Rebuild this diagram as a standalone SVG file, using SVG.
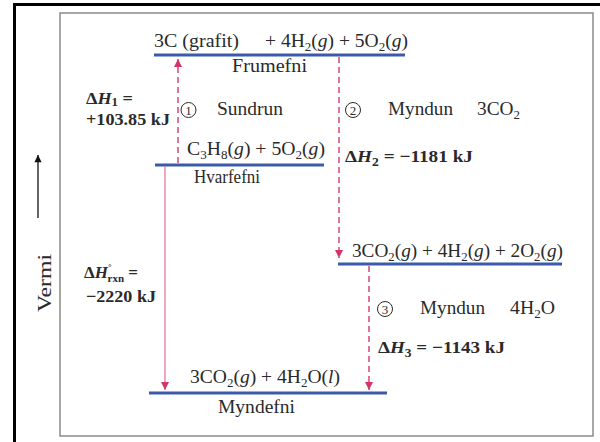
<svg xmlns="http://www.w3.org/2000/svg" width="600" height="442" viewBox="0 0 600 442">
<style>
.t{font-family:"Liberation Serif","Times New Roman",serif;font-size:18px;fill:#2a2a2a}
.b{font-weight:bold;font-size:17px}
.i{font-style:italic}
.s{font-size:12px}
.cc{fill:none;stroke:#2a2a2a;stroke-width:1}
.cd{font-family:"Liberation Serif","Times New Roman",serif;font-size:13px;fill:#2a2a2a;text-anchor:middle}
.lv{stroke:#3b5ba8;stroke-width:3}
.dash{stroke:#d6457a;stroke-width:1.5;stroke-dasharray:6 4;fill:none}
.solid{stroke:#e07098;stroke-width:1.2;fill:none}
</style>
<defs>
<marker id="ap" viewBox="0 0 8 10" refX="8" refY="5" markerWidth="8" markerHeight="10" markerUnits="userSpaceOnUse" orient="auto">
<path d="M0,1 L8,5 L0,9 Z" fill="#d6336c"/>
</marker>
<marker id="ak" viewBox="0 0 8 10" refX="8" refY="5" markerWidth="8" markerHeight="9" markerUnits="userSpaceOnUse" orient="auto">
<path d="M0,1 L8,5 L0,9 Z" fill="#111"/>
</marker>
</defs>
<rect x="14.5" y="4.5" width="600" height="450" fill="#fff" stroke="#000" stroke-width="3"/>
<rect x="60" y="13" width="533" height="423" fill="#fff" stroke="#8a8a8a" stroke-width="1.5"/>

<g id="axis">
<line x1="38" y1="218" x2="38" y2="155" stroke="#111" stroke-width="1.3" marker-end="url(#ak)"/>
<text class="t" transform="translate(51,283) rotate(-90)" text-anchor="middle" textLength="58" lengthAdjust="spacingAndGlyphs">Vermi</text>
</g>

<g id="frumefni">
<line class="lv" x1="154" y1="55" x2="405" y2="55"/>
<text class="t" x="154" y="47" textLength="85" lengthAdjust="spacingAndGlyphs">3C (grafit)</text>
<text class="t" x="265" y="47" textLength="143" lengthAdjust="spacingAndGlyphs">+ 4H<tspan class="s" dy="4">2</tspan><tspan dy="-4">(</tspan><tspan class="i">g</tspan>) + 5O<tspan class="s" dy="4">2</tspan><tspan dy="-4">(</tspan><tspan class="i">g</tspan>)</text>
<text class="t" x="232" y="72" textLength="75" lengthAdjust="spacingAndGlyphs">Frumefni</text>
</g>

<g id="hvarfefni">
<line class="lv" x1="155" y1="165" x2="324" y2="165"/>
<text class="t" x="187" y="155" textLength="138" lengthAdjust="spacingAndGlyphs">C<tspan class="s" dy="4">3</tspan><tspan dy="-4">H</tspan><tspan class="s" dy="4">8</tspan><tspan dy="-4">(</tspan><tspan class="i">g</tspan>) + 5O<tspan class="s" dy="4">2</tspan><tspan dy="-4">(</tspan><tspan class="i">g</tspan>)</text>
<text class="t" x="194" y="183" textLength="66" lengthAdjust="spacingAndGlyphs">Hvarfefni</text>
</g>

<g id="millistig">
<line class="lv" x1="338" y1="264" x2="562" y2="264"/>
<text class="t" x="352" y="257" textLength="211" lengthAdjust="spacingAndGlyphs">3CO<tspan class="s" dy="4">2</tspan><tspan dy="-4">(</tspan><tspan class="i">g</tspan>) + 4H<tspan class="s" dy="4">2</tspan><tspan dy="-4">(</tspan><tspan class="i">g</tspan>) + 2O<tspan class="s" dy="4">2</tspan><tspan dy="-4">(</tspan><tspan class="i">g</tspan>)</text>
</g>

<g id="myndefni">
<line class="lv" x1="149" y1="393" x2="387" y2="393"/>
<text class="t" x="190" y="383" textLength="150" lengthAdjust="spacingAndGlyphs">3CO<tspan class="s" dy="4">2</tspan><tspan dy="-4">(</tspan><tspan class="i">g</tspan>) + 4H<tspan class="s" dy="4">2</tspan><tspan dy="-4">O(</tspan><tspan class="i">l</tspan>)</text>
<text class="t" x="218" y="413" textLength="77" lengthAdjust="spacingAndGlyphs">Myndefni</text>
</g>

<g id="connectors">
<line class="dash" x1="178" y1="163" x2="178" y2="59" marker-end="url(#ap)"/>
<line class="dash" x1="339" y1="57" x2="339" y2="258" marker-end="url(#ap)"/>
<line class="dash" x1="369" y1="266" x2="369" y2="390" marker-end="url(#ap)"/>
<line class="solid" x1="165" y1="166" x2="165" y2="390" marker-end="url(#ap)"/>
</g>

<g id="skref1">
<text class="t b" x="86" y="104" textLength="47" lengthAdjust="spacingAndGlyphs">Δ<tspan class="i">H</tspan><tspan class="s" dy="2">1</tspan><tspan dy="-2"> =</tspan></text>
<text class="t b" x="86" y="125" textLength="84" lengthAdjust="spacingAndGlyphs">+103.85 kJ</text>
<circle class="cc" cx="188.5" cy="110" r="7.5"/>
<text class="cd" x="188.5" y="114.5">1</text>
<text class="t" x="217" y="115" textLength="66" lengthAdjust="spacingAndGlyphs">Sundrun</text>
</g>

<g id="skref2">
<circle class="cc" cx="353" cy="110" r="7.5"/>
<text class="cd" x="353" y="114.5">2</text>
<text class="t" x="388" y="115" textLength="65" lengthAdjust="spacingAndGlyphs">Myndun</text>
<text class="t" x="477" y="115" textLength="43" lengthAdjust="spacingAndGlyphs">3CO<tspan class="s" dy="4">2</tspan></text>
<text class="t b" x="345" y="162" textLength="128" lengthAdjust="spacingAndGlyphs">Δ<tspan class="i">H</tspan><tspan class="s" dy="4">2</tspan><tspan dy="-4"> = −1181 kJ</tspan></text>
</g>

<g id="skref3">
<circle class="cc" cx="385" cy="309" r="7.5"/>
<text class="cd" x="385" y="313.5">3</text>
<text class="t" x="420" y="314" textLength="65" lengthAdjust="spacingAndGlyphs">Myndun</text>
<text class="t" x="510" y="314" textLength="45" lengthAdjust="spacingAndGlyphs">4H<tspan class="s" dy="4">2</tspan><tspan dy="-4">O</tspan></text>
<text class="t b" x="378" y="353" textLength="127" lengthAdjust="spacingAndGlyphs">Δ<tspan class="i">H</tspan><tspan class="s" dy="4">3</tspan><tspan dy="-4"> = −1143 kJ</tspan></text>
</g>

<g id="heild">
<text class="t b" x="84" y="278">Δ<tspan class="i">H</tspan><tspan font-size="9" dy="-8">°</tspan><tspan font-size="11" dx="-4" dy="12">rxn</tspan><tspan dy="-4"> =</tspan></text>
<text class="t b" x="86" y="302" textLength="70" lengthAdjust="spacingAndGlyphs">−2220 kJ</text>
</g>
</svg>
